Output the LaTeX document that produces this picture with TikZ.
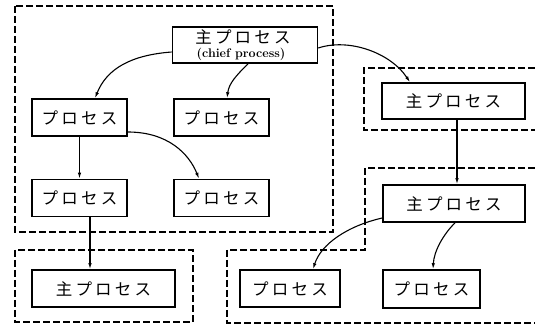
\documentclass[tikz,border=0pt]{standalone}
\usepackage{fontspec}
\newfontfamily\jp{Noto Sans CJK JP}
\usetikzlibrary{calc,arrows.meta}
\newcommand\jkern{\kern3.2pt}
\newcommand\psx{{\jp プ\jkern ロ\jkern セ\jkern ス}}
\newcommand\mpsx{{\jp 主\jkern プ\jkern ロ\jkern セ\jkern ス}}
\tikzset{
  box/.style={draw, line width=1.6pt, minimum height=37pt, inner sep=0pt, font=\fontsize{16.5}{16.5}\selectfont},
  grp/.style={draw, dashed, line width=1.3pt, dash pattern=on 7pt off 3pt},
  conn/.style={line width=1.1pt, -{Latex[length=6pt,width=3.5pt]}},
}
\begin{document}
\begin{tikzpicture}[x=1pt,y=-1pt]
\useasboundingbox (0,0) rectangle (535,328);
\clip (0,0) rectangle (535,328);
% groups
\draw[grp] (15,6) rectangle (333,232);
\draw[grp] (545,68) -- (364,68) -- (364,130) -- (545,130);
\draw[grp] (15,250) rectangle (193,322);
\draw[grp] (545,168) -- (365,168) -- (365,250) -- (227,250) -- (227,323) -- (545,323);
% nodes
\node[box, minimum width=145pt, minimum height=36pt] (chief) at (245,45) {};
\node[font=\fontsize{16.5}{16.5}\selectfont] (chiefjp) at (243,36.5) {\mpsx};
\node[font=\bfseries\fontsize{12.5}{12.5}\selectfont] (chiefen) at (241,54) {(chief process)};
\node[box, minimum width=95pt] (p1) at (79.5,117.5) {\psx};
\node[box, minimum width=95pt] (p2) at (221.5,117.5) {\psx};
\node[box, minimum width=95pt] (p3) at (79.5,198) {\psx};
\node[box, minimum width=95pt] (p4) at (221.5,198) {\psx};
\node[box, minimum width=143pt, minimum height=36pt] (m1) at (453.5,101) {\mpsx};
\node[box, minimum width=142pt] (m2) at (454,203.5) {\mpsx};
\node[box, minimum width=143pt] (m3) at (103.5,288.5) {\mpsx};
\node[box, minimum width=100pt] (p5) at (290,288.5) {\psx};
\node[box, minimum width=97pt, minimum height=38pt] (p6) at (431.5,289) {\psx};
% connectors
\draw[conn] ($(chief.west)+(0,7)$) .. controls +(-40,3) and +(12,-30) .. ($(p1.north)+(15.5,0)$);
\draw[conn] ($(chief.south)+(3,0)$) .. controls +(-12,12) and +(2,-15) .. ($(p2.north)+(5.5,0)$);
\draw[conn] ($(chief.east)+(0,3)$) .. controls +(30,-10) and +(-20,-30) .. ($(m1.north)+(-43.5,0)$);
\draw[conn] (p1.south) -- (p3.north);
\draw[conn] ($(p1.east)+(0,14.5)$) .. controls +(40,0) and +(-10,-25) .. ($(p4.north)+(-22.5,0)$);
\draw[conn] ($(p3.south)+(10.5,0)$) -- ($(m3.north)+(-13.5,0)$);
\draw[conn] ($(m1.south)+(3.5,0)$) -- ($(m2.north)+(3,0)$);
\draw[conn] ($(m2.west)+(0,14.5)$) .. controls +(-35,8) and +(8,-25) .. ($(p5.north)+(23,0)$);
\draw[conn] ($(m2.south)+(1,0)$) .. controls +(-12,12) and +(1,-18) .. ($(p6.north)+(1.5,0)$);
\end{tikzpicture}
\end{document}
